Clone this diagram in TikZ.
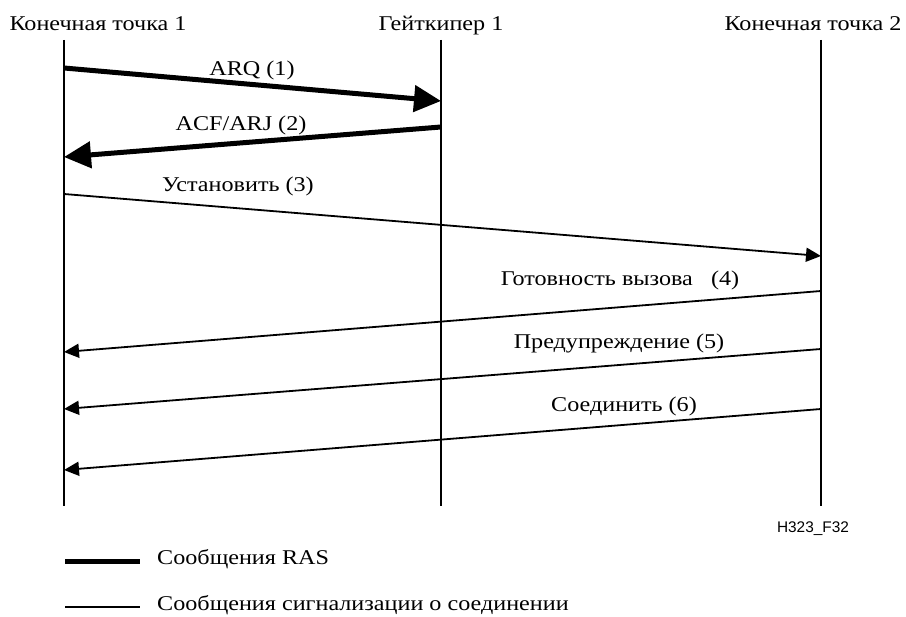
\documentclass[tikz,border=0pt]{standalone}
\usepackage{fontspec}
\setmainfont{Liberation Serif}[FakeStretch=1.15]
\newfontfamily\labelsans{Liberation Sans}
\usetikzlibrary{arrows.meta}
\begin{document}
\begin{tikzpicture}[x=1pt,y=-1pt,
  every node/.style={font=\fontsize{21}{24}\selectfont, inner sep=0pt},
  lifeline/.style={line width=2.5pt},
  ras/.style={line width=5pt, -{Triangle[length=27pt,width=26pt]}},
  sig/.style={line width=1.8pt, -{Triangle[length=15pt,width=14pt]}},
  msg/.style={anchor=base},
  head/.style={anchor=base}]
\useasboundingbox (0,0) rectangle (906,617);
% participant headers
\node[head] (h1) at (98,31) {Конечная точка 1};
\node[head] (h2) at (441,31) {Гейткипер 1};
\node[head] (h3) at (813,31) {Конечная точка 2};
% lifelines
\coordinate (e1t) at (64,40);  \coordinate (e1b) at (64,506);
\coordinate (gkt) at (441,40); \coordinate (gkb) at (441,506);
\coordinate (e2t) at (821,40); \coordinate (e2b) at (821,506);
\draw[lifeline] (e1t) -- (e1b);
\draw[lifeline] (gkt) -- (gkb);
\draw[lifeline] (e2t) -- (e2b);
% message end points
\coordinate (m1a) at (64,68);   \coordinate (m1b) at (441,101);
\coordinate (m2a) at (441,127); \coordinate (m2b) at (64,157);
\coordinate (m3a) at (64,194);  \coordinate (m3b) at (821,256);
\coordinate (m4a) at (821,291); \coordinate (m4b) at (64,352);
\coordinate (m5a) at (821,349); \coordinate (m5b) at (64,409);
\coordinate (m6a) at (821,409); \coordinate (m6b) at (64,470);
\draw[ras] (m1a) -- (m1b);
\draw[ras] (m2a) -- (m2b);
\draw[sig] (m3a) -- (m3b);
\draw[sig] (m4a) -- (m4b);
\draw[sig] (m5a) -- (m5b);
\draw[sig] (m6a) -- (m6b);
% message labels
\node[msg] (l1) at (252,76) {ARQ (1)};
\node[msg] (l2) at (241,131) {ACF/ARJ (2)};
\node[msg] (l3) at (238,192) {Установить (3)};
\node[msg] (l4) at (620,286) {Готовность вызова \ \ (4)};
\node[msg] (l5) at (619,349) {Предупреждение (5)};
\node[msg] (l6) at (624,412) {Соединить (6)};
% figure tag
\node[anchor=base] (tag) at (813,533) {\labelsans\fontsize{15.4}{18}\selectfont H323\_F32};
% legend
\coordinate (k1a) at (65,562); \coordinate (k1b) at (140,562);
\coordinate (k2a) at (65,607); \coordinate (k2b) at (140,607);
\draw[line width=5pt] (k1a) -- (k1b);
\draw[line width=1.8pt] (k2a) -- (k2b);
\node[anchor=base west] (t1) at (157,565) {Сообщения RAS};
\node[anchor=base west] (t2) at (157,611) {Сообщения сигнализации о соединении};
\end{tikzpicture}
\end{document}
